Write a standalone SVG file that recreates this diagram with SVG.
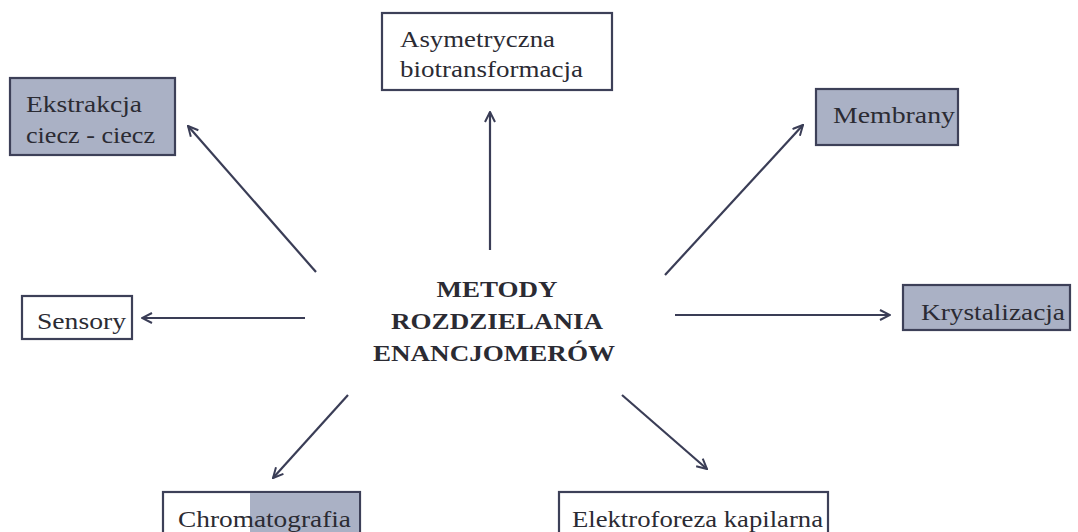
<svg xmlns="http://www.w3.org/2000/svg" width="1078" height="532" viewBox="0 0 1078 532">
  <style>
    .box { stroke: #3d4058; stroke-width: 2.2; }
    .plain { fill: #ffffff; }
    .shaded { fill: #aab1c5; }
    .lbl { font-family: "Liberation Serif", "Times New Roman", serif; font-size: 24px; fill: #2b2b33; }
    .title { font-family: "Liberation Serif", "Times New Roman", serif; font-size: 23px; font-weight: bold; fill: #2b2b33; text-anchor: middle; }
    .arrow { stroke: #3a3d56; stroke-width: 2.2; fill: none; marker-end: url(#head); }
  </style>
  <defs>
    <marker id="head" viewBox="0 0 12 12" refX="11" refY="6" markerWidth="12" markerHeight="12" markerUnits="userSpaceOnUse" orient="auto">
      <path d="M1,1 L11,6 L1,11" fill="none" stroke="#3a3d56" stroke-width="2"/>
    </marker>
  </defs>
  <rect width="1078" height="532" fill="#ffffff"/>

  <g id="center">
    <text class="title" x="497" y="297" textLength="121" lengthAdjust="spacingAndGlyphs">METODY</text>
    <text class="title" x="497" y="329" textLength="212" lengthAdjust="spacingAndGlyphs">ROZDZIELANIA</text>
    <text class="title" x="494" y="361" textLength="242" lengthAdjust="spacingAndGlyphs">ENANCJOMERÓW</text>
  </g>

  <g id="ekstrakcja">
    <rect class="box shaded" x="10" y="78" width="165" height="77"/>
    <text class="lbl" x="26" y="112" textLength="116" lengthAdjust="spacingAndGlyphs">Ekstrakcja</text>
    <text class="lbl" x="26" y="143" textLength="129" lengthAdjust="spacingAndGlyphs">ciecz - ciecz</text>
  </g>

  <g id="biotransformacja">
    <rect class="box plain" x="382" y="13" width="230" height="77"/>
    <text class="lbl" x="400" y="47" textLength="155" lengthAdjust="spacingAndGlyphs">Asymetryczna</text>
    <text class="lbl" x="400" y="77" textLength="183" lengthAdjust="spacingAndGlyphs">biotransformacja</text>
  </g>

  <g id="membrany">
    <rect class="box shaded" x="816" y="89" width="142" height="56"/>
    <text class="lbl" x="833" y="123" textLength="122" lengthAdjust="spacingAndGlyphs">Membrany</text>
  </g>

  <g id="sensory">
    <rect class="box plain" x="22" y="296" width="110" height="43"/>
    <text class="lbl" x="37" y="329" textLength="89" lengthAdjust="spacingAndGlyphs">Sensory</text>
  </g>

  <g id="krystalizacja">
    <rect class="box shaded" x="903" y="285" width="167" height="45"/>
    <text class="lbl" x="921" y="320" textLength="144" lengthAdjust="spacingAndGlyphs">Krystalizacja</text>
  </g>

  <g id="chromatografia">
    <rect class="box plain" x="163" y="492" width="197" height="60"/>
    <rect x="250" y="493" width="109" height="58" fill="#aab1c5"/>
    <text class="lbl" x="178" y="527" textLength="173" lengthAdjust="spacingAndGlyphs">Chromatografia</text>
  </g>

  <g id="elektroforeza">
    <rect class="box plain" x="559" y="492" width="269" height="60"/>
    <text class="lbl" x="572" y="527" textLength="251" lengthAdjust="spacingAndGlyphs">Elektroforeza kapilarna</text>
  </g>

  <g id="connectors">
    <line class="arrow" x1="316" y1="272" x2="188" y2="126"/>
    <line class="arrow" x1="490" y1="250" x2="490" y2="112"/>
    <line class="arrow" x1="665" y1="275" x2="803" y2="125"/>
    <line class="arrow" x1="305" y1="318" x2="142" y2="318"/>
    <line class="arrow" x1="675" y1="315" x2="890" y2="315"/>
    <line class="arrow" x1="348" y1="395" x2="273" y2="478"/>
    <line class="arrow" x1="622" y1="395" x2="707" y2="469"/>
  </g>
</svg>
